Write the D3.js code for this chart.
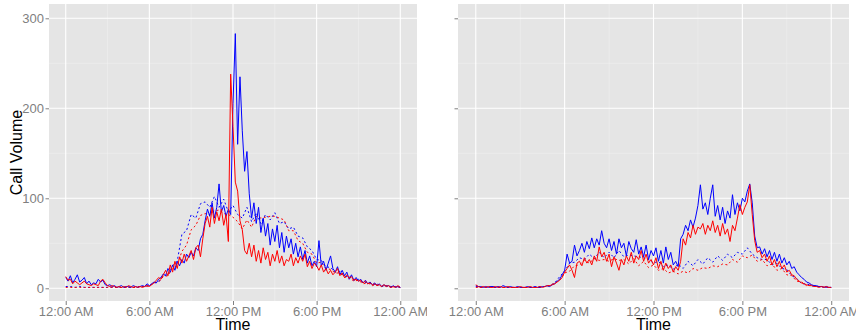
<!DOCTYPE html>
<html><head><meta charset="utf-8">
<script src="https://cdn.jsdelivr.net/npm/d3@7"></script>
<style>body{margin:0;background:#fff} svg{display:block}</style>
</head><body>
<svg id="c" width="856" height="332"></svg>
<script>
// ---- data ----
const xTickHours = [0, 6, 12, 18, 24];
const xTickLabels = ["12:00 AM", "6:00 AM", "12:00 PM", "6:00 PM", "12:00 AM"];
const xMinorHours = [3, 9, 15, 21];
const yTicks = [0, 100, 200, 300];
const yMinor = [50, 150, 250];
const solidStepMinutes = 10;   // solid series sampled every 10 minutes
const dottedStepMinutes = 20;  // dotted series sampled every 20 minutes

const leftBlueSolid = [12,8,14,6,10,15,7,9,12,5,8,4,6,5,10,7,9,4,3,4,2,3,1,2,3,1,2,2,1,3,2,1,2,3,2,5,3,
 5,7,6,10,12,16,14,22,18,26,20,30,25,32,28,38,34,40,36,45,42,55,60,75,88,80,95,78,90,116,85,92,80,88,82,
 205,283,160,235,175,130,152,
 105,78,95,72,90,62,78,58,72,48,66,52,70,45,62,40,58,45,55,38,50,35,46,32,42,28,36,25,30,24,53,25,30,20,28,36,22,18,24,15,20,14,18,10,15,9,12,8,10,6,9,5,7,4,6,3,5,2,4,2,3,1,3,1,2,1];
const leftRedSolid = [13,9,10,5,8,6,4,6,8,5,4,3,5,4,3,8,10,6,3,2,3,2,1,2,1,2,1,3,2,1,2,1,2,1,2,3,2,
 4,6,9,12,10,15,20,14,26,18,30,22,35,28,38,30,36,42,32,45,48,35,55,72,80,68,90,72,85,75,88,70,82,52,
 238,180,118,108,75,65,42,38,
 50,35,48,30,42,28,45,32,40,25,38,30,42,28,36,25,32,30,38,25,34,28,36,30,38,24,30,22,28,25,20,26,18,22,16,20,15,18,22,14,17,12,15,11,13,9,10,8,9,6,8,5,6,4,5,3,4,2,4,2,3,1,2,1,3,1];
const leftBlueDotted = [2,2,1,2,1,1,1,1,1,1,1,1,1,1,1,1,2,2,
 3,6,7,14,15,25,30,60,64,82,78,94,96,90,102,90,99,85,92,82,78,90,74,84,72,82,76,84,72,74,66,68,58,56,46,42,32,31,24,23,18,19,13,13,9,10,6,7,4,5,2,3,2,2,1];
const leftRedDotted = [1,1,1,1,1,1,1,1,1,1,1,1,1,1,1,1,2,2,
 3,6,7,13,14,22,26,41,48,65,70,81,83,82,86,87,83,82,79,74,66,76,68,80,78,79,80,80,78,76,64,64,53,50,40,38,28,29,22,21,17,17,12,12,8,9,5,6,3,4,2,3,1,2,1];

const rightBlueSolid = [3,2,2,1,2,1,2,2,1,2,1,3,2,1,2,1,1,2,1,1,1,2,1,1,2,1,1,2,2,3,2,
 4,5,8,10,15,20,38,28,30,48,36,42,50,40,52,44,56,45,55,48,64,50,45,55,42,52,38,55,45,50,36,52,44,40,54,38,46,35,48,32,42,36,45,30,42,28,46,32,40,26,30,24,
 55,60,70,64,76,68,78,92,115,88,95,82,100,115,80,92,76,90,72,86,78,104,82,95,86,100,96,108,116,95,58,45,
 46,38,44,35,42,32,40,30,38,28,34,26,30,22,24,18,15,12,10,7,6,4,3,3,2,2,1,2,1,1];
const rightRedSolid = [4,2,1,2,1,2,1,1,2,1,2,1,1,2,1,1,1,1,2,1,1,1,2,1,1,1,2,1,2,3,3,
 4,5,7,9,12,18,22,26,20,12,28,30,25,34,28,32,26,36,30,46,35,40,30,38,24,35,28,20,32,26,36,30,40,28,36,32,42,30,38,28,32,26,34,22,30,20,28,22,26,18,24,20,
 30,55,48,62,56,70,60,68,66,72,60,70,64,75,62,70,58,72,60,66,52,70,64,78,93,82,90,96,115,82,53,40,
 42,34,38,30,36,26,32,24,30,22,26,18,20,15,14,10,8,6,5,4,3,3,2,2,1,2,1,2,1,1];
const rightBlueDotted = [2,1,1,2,1,1,1,1,1,1,1,1,1,2,2,3,
 6,13,19,28,29,34,32,38,33,40,34,40,34,42,35,37,36,35,34,32,28,30,24,26,21,27,22,30,25,32,27,34,29,36,31,38,34,40,38,45,38,34,32,32,26,28,22,21,14,11,5,5,3,2,2,1,1];
const rightRedDotted = [1,1,1,1,1,1,1,1,1,1,1,1,1,1,
 2,3,6,9,17,19,25,26,31,28,33,31,32,30,33,31,32,27,33,25,30,23,26,20,22,17,19,16,19,17,22,20,23,22,25,24,27,26,32,29,36,34,37,30,32,25,27,20,22,15,14,8,7,3,4,2,2,1,1];

// ---- drawing ----
const svg = d3.select("#c");
const FONT = "'Liberation Sans', Arial, sans-serif";
const y = d3.scaleLinear().domain([-14.1, 315.9]).range([301, 4]);

const panels = [
  { x0: 49, x1: 417, clipW: 427, yLabels: true,
    series: [
      {v: leftBlueDotted, step: dottedStepMinutes, color: "blue", dash: "2,2.5"},
      {v: leftRedDotted, step: dottedStepMinutes, color: "red", dash: "2,2.5"},
      {v: leftBlueSolid, step: solidStepMinutes, color: "blue"},
      {v: leftRedSolid, step: solidStepMinutes, color: "red"}
    ]},
  { x0: 458, x1: 849, clipW: 856, yLabels: false,
    series: [
      {v: rightBlueDotted, step: dottedStepMinutes, color: "blue", dash: "2,2.5"},
      {v: rightRedDotted, step: dottedStepMinutes, color: "red", dash: "2,2.5"},
      {v: rightBlueSolid, step: solidStepMinutes, color: "blue"},
      {v: rightRedSolid, step: solidStepMinutes, color: "red"}
    ]}
];

const defs = svg.append("defs");
panels.forEach((p, pi) => {
  const clipX = pi === 0 ? 0 : 428;
  defs.append("clipPath").attr("id", "clip" + pi)
    .append("rect").attr("x", clipX).attr("y", 0).attr("width", p.clipW - clipX).attr("height", 332);

  const g = svg.append("g").attr("clip-path", `url(#clip${pi})`);
  const x = d3.scaleLinear().domain([-1.2, 25.2]).range([p.x0, p.x1]);

  g.append("rect").attr("x", p.x0).attr("y", 4).attr("width", p.x1 - p.x0).attr("height", 297).attr("fill", "#E5E5E5");

  // minor grid
  g.selectAll(".ymin").data(yMinor).enter().append("line")
    .attr("x1", p.x0).attr("x2", p.x1).attr("y1", d => y(d)).attr("y2", d => y(d))
    .attr("stroke", "#F2F2F2").attr("stroke-width", 0.5);
  g.selectAll(".xmin").data(xMinorHours).enter().append("line")
    .attr("y1", 4).attr("y2", 301).attr("x1", d => x(d)).attr("x2", d => x(d))
    .attr("stroke", "#F2F2F2").attr("stroke-width", 0.5);
  // major grid
  g.selectAll(".ymaj").data(yTicks).enter().append("line")
    .attr("x1", p.x0).attr("x2", p.x1).attr("y1", d => y(d)).attr("y2", d => y(d))
    .attr("stroke", "#FFFFFF").attr("stroke-width", 1.1);
  g.selectAll(".xmaj").data(xTickHours).enter().append("line")
    .attr("y1", 4).attr("y2", 301).attr("x1", d => x(d)).attr("x2", d => x(d))
    .attr("stroke", "#FFFFFF").attr("stroke-width", 1.1);

  // series
  p.series.forEach(s => {
    const line = d3.line().x((d, i) => x(i * s.step / 60)).y(d => y(d));
    g.append("path").datum(s.v).attr("d", line)
      .attr("fill", "none").attr("stroke", s.color).attr("stroke-width", 1)
      .attr("stroke-dasharray", s.dash || null);
  });

  // axes
  const xa = g.append("g").attr("transform", "translate(0,301)")
    .call(d3.axisBottom(x).tickValues(xTickHours).tickFormat((d, i) => xTickLabels[i]).tickSize(4).tickPadding(2));
  const ya = g.append("g").attr("transform", `translate(${p.x0},0)`)
    .call(d3.axisLeft(y).tickValues(yTicks).tickFormat(d => p.yLabels ? d : "").tickSize(3.5).tickPadding(1.5));
  [xa, ya].forEach(a => {
    a.select(".domain").remove();
    a.selectAll(".tick line").attr("stroke", "#7F7F7F");
    a.selectAll(".tick text").attr("fill", "#7F7F7F").attr("font-size", "13px").attr("font-family", FONT);
  });

  g.append("text").attr("x", x(12)).attr("y", 330).attr("text-anchor", "middle")
    .attr("font-family", FONT).attr("font-size", "16px").attr("fill", "#000").text("Time");
});

svg.append("text").attr("transform", "translate(21.5,152.5) rotate(-90)").attr("text-anchor", "middle")
  .attr("font-family", FONT).attr("font-size", "16px").attr("fill", "#000").text("Call Volume");
</script>
</body></html>
